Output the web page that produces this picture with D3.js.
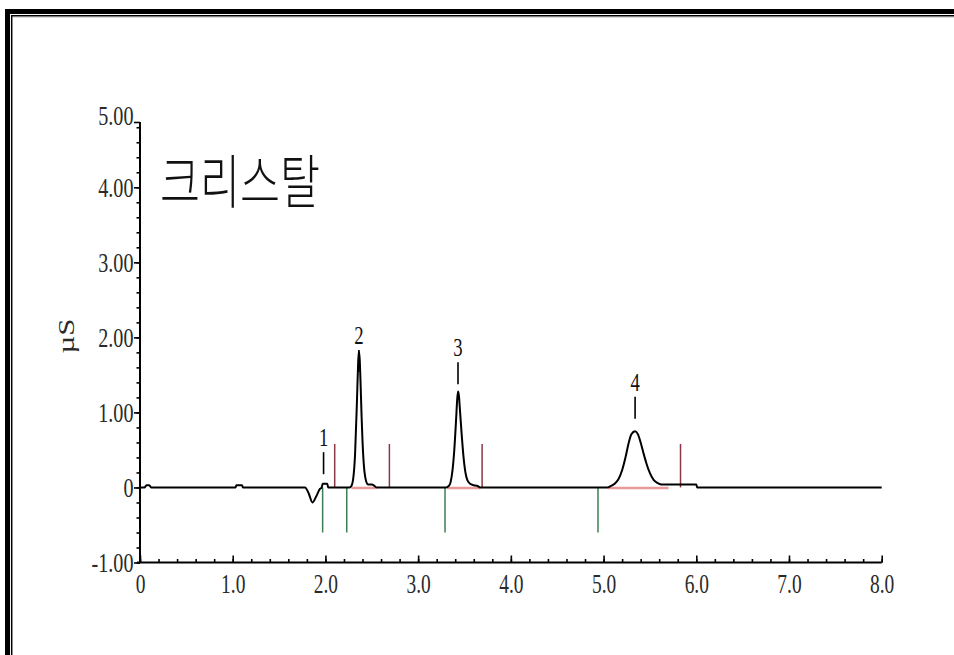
<!DOCTYPE html>
<html>
<head>
<meta charset="utf-8">
<script src="https://cdn.jsdelivr.net/npm/d3@7"></script>
<style>
  html, body { margin: 0; padding: 0; background: #fff; }
  svg { display: block; }
</style>
</head>
<body>
<svg id="chart" width="954" height="655"></svg>
<script>
// Conductivity trace: retention time (min) and signal (µS)
const traceTime = [
  0.00, 0.05, 0.07, 0.10, 0.12,
  1.03, 1.04, 1.10, 1.11,
  1.78, 1.82, 1.86, 1.90, 1.94, 1.96, 1.97, 2.02, 2.03,
  2.26, 2.28, 2.30, 2.32, 2.34, 2.35, 2.36, 2.37, 2.38, 2.39, 2.40, 2.41, 2.42, 2.44, 2.46, 2.50, 2.53, 2.55,
  3.30, 3.33, 3.35, 3.37, 3.39, 3.41, 3.42, 3.43, 3.44, 3.45, 3.47, 3.49, 3.51, 3.53, 3.56, 3.60, 3.64, 3.67,
  5.04, 5.08, 5.12, 5.16, 5.20, 5.24, 5.27, 5.30, 5.34, 5.37, 5.40, 5.43, 5.46, 5.50, 5.54, 5.58, 5.62, 5.66, 5.70,
  6.00, 6.01, 8.00
];
const traceSignal = [
  0.00, 0.00, 0.03, 0.03, 0.00,
  0.00, 0.03, 0.03, 0.00,
  0.00, -0.08, -0.20, -0.12, -0.02, 0.00, 0.05, 0.05, 0.00,
  0.00, 0.02, 0.12, 0.45, 1.15, 1.55, 1.82, 1.70, 1.35, 0.95, 0.62, 0.38, 0.22, 0.08, 0.04, 0.04, 0.02, 0.00,
  0.00, 0.02, 0.07, 0.22, 0.50, 0.92, 1.15, 1.28, 1.22, 1.05, 0.70, 0.40, 0.20, 0.10, 0.05, 0.03, 0.02, 0.00,
  0.00, 0.02, 0.05, 0.11, 0.23, 0.42, 0.59, 0.71, 0.75, 0.71, 0.60, 0.46, 0.33, 0.19, 0.10, 0.06, 0.04, 0.04, 0.04,
  0.04, 0.00, 0.00
];

// Peak annotations: number, apex time, level of the number label (µS)
const peakNumbers = ["1", "2", "3", "4"];
const peakTimes = [1.98, 2.36, 3.43, 5.34];
const peakLabelLevels = [0.67, 2.03, 1.87, 1.41];

// Integration window delimiters (start marks below, end marks above the baseline)
const windowStartTimes = [1.97, 2.23, 3.29, 4.94];
const windowEndTimes = [2.10, 2.69, 3.69, 5.83];

// Integration baselines drawn under the peaks
const baselineStarts = [2.28, 3.31, 5.05];
const baselineEnds = [2.55, 3.67, 5.70];

// Axes
const xTickValues = [0, 1, 2, 3, 4, 5, 6, 7, 8];
const xTickLabels = ["0", "1.0", "2.0", "3.0", "4.0", "5.0", "6.0", "7.0", "8.0"];
const yTickValues = [-1, 0, 1, 2, 3, 4, 4.87];
const yTickLabels = ["-1.00", "0", "1.00", "2.00", "3.00", "4.00", "5.00"];
const titleText = "크리스탈";
const yAxisTitle = "µS";

const svg = d3.select("#chart");
const SQ = 0.72; // horizontal squeeze applied to all lettering

const x = d3.scaleLinear().domain([0, 8]).range([140, 881.7]);
const y = d3.scaleLinear().domain([-1, 4.87]).range([562.5, 122]);

// Frame
svg.append("rect").attr("x", 5).attr("y", 9).attr("width", 949).attr("height", 5).attr("fill", "#000");
svg.append("rect").attr("x", 5).attr("y", 9).attr("width", 5).attr("height", 646).attr("fill", "#000");
svg.append("line").attr("x1", 11).attr("x2", 954).attr("y1", 15.7).attr("y2", 15.7)
  .attr("stroke", "#000").attr("stroke-width", 1.5);
svg.append("line").attr("x1", 11.7).attr("x2", 11.7).attr("y1", 15).attr("y2", 655)
  .attr("stroke", "#000").attr("stroke-width", 1.5);
svg.append("line").attr("x1", 13).attr("x2", 954).attr("y1", 17.5).attr("y2", 17.5)
  .attr("stroke", "#ddd").attr("stroke-width", 1);

// Minor ticks
const xMinor = d3.range(0, 8.001, 0.2);
const yMinor = d3.range(-1, 4.81, 0.2);

const xAxisMinor = d3.axisBottom(x).tickValues(xMinor).tickSizeInner(-3.5).tickSizeOuter(0).tickFormat("");
const xAxisMajor = d3.axisBottom(x).tickValues(xTickValues).tickSizeInner(-7).tickSizeOuter(0)
  .tickFormat((d, i) => xTickLabels[i]);
const yAxisMinor = d3.axisLeft(y).tickValues(yMinor).tickSizeInner(3.5).tickSizeOuter(0).tickFormat("");
const yAxisMajor = d3.axisLeft(y).tickValues(yTickValues).tickSizeInner(6).tickSizeOuter(0)
  .tickFormat((d, i) => yTickLabels[i]);

function styleAxis(g) {
  g.select(".domain").remove();
  g.selectAll(".tick line").attr("stroke", "#000").attr("stroke-width", 1.6);
}

svg.append("g").attr("transform", `translate(0,${y(-1)})`).call(xAxisMinor).call(styleAxis);
const gx = svg.append("g").attr("transform", `translate(0,${y(-1)})`).call(xAxisMajor).call(styleAxis);
gx.selectAll(".tick text")
  .attr("y", 31).attr("dy", 0).attr("x", 0)
  .attr("transform", `scale(${SQ},1)`)
  .attr("font-family", "'Liberation Serif', 'Times New Roman', serif")
  .attr("font-size", 27).attr("fill", "#2a2a2a");

svg.append("g").attr("transform", `translate(${x(0)},0)`).call(yAxisMinor).call(styleAxis);
const gy = svg.append("g").attr("transform", `translate(${x(0)},0)`).call(yAxisMajor).call(styleAxis);
gy.selectAll(".tick text")
  .attr("x", -6.5 / SQ).attr("dy", "0.33em")
  .attr("transform", `scale(${SQ},1)`)
  .attr("font-family", "'Liberation Serif', 'Times New Roman', serif")
  .attr("font-size", 28).attr("fill", "#2a2a2a");
// the top label sits just above its tick
gy.selectAll(".tick text").filter((d, i) => i === yTickValues.length - 1).attr("dy", "0.1em");

// Axis lines
svg.append("line").attr("x1", x(0) - 3).attr("x2", x(8)).attr("y1", y(-1)).attr("y2", y(-1))
  .attr("stroke", "#000").attr("stroke-width", 2);
svg.append("line").attr("x1", x(0)).attr("x2", x(0)).attr("y1", y(4.87)).attr("y2", y(-1))
  .attr("stroke", "#000").attr("stroke-width", 2);

// Y axis title
svg.append("text")
  .attr("transform", `translate(74,336) scale(${SQ},1) rotate(-90)`)
  .attr("text-anchor", "middle")
  .attr("font-family", "'Liberation Serif', 'Times New Roman', serif")
  .attr("font-size", 31).attr("fill", "#2a2a2a")
  .text(yAxisTitle);

// Sample name
svg.append("text")
  .attr("transform", `translate(160,203) scale(0.75,1)`)
  .attr("font-family", "'Noto Sans CJK KR', 'Noto Sans', sans-serif")
  .attr("font-weight", 300)
  .attr("font-size", 58).attr("fill", "#111")
  .text(titleText);

// Integration baselines
baselineStarts.forEach((s, i) => {
  svg.append("line")
    .attr("x1", x(s)).attr("x2", x(baselineEnds[i]))
    .attr("y1", y(0) + 0.5).attr("y2", y(0) + 0.5)
    .attr("stroke", "#e89a9a").attr("stroke-width", 2.5);
});

// Window delimiters
windowStartTimes.forEach(t => {
  svg.append("line")
    .attr("x1", x(t)).attr("x2", x(t))
    .attr("y1", y(0)).attr("y2", y(-0.6))
    .attr("stroke", "#3f7f55").attr("stroke-width", 1.5);
});
windowEndTimes.forEach(t => {
  svg.append("line")
    .attr("x1", x(t)).attr("x2", x(t))
    .attr("y1", y(0)).attr("y2", y(0.58))
    .attr("stroke", "#8a3848").attr("stroke-width", 1.5);
});

// Trace
const points = traceTime.map((t, i) => [t, traceSignal[i]]);
svg.append("path")
  .datum(points)
  .attr("fill", "none")
  .attr("stroke", "#000")
  .attr("stroke-width", 2)
  .attr("stroke-linejoin", "round")
  .attr("d", d3.line().x(d => x(d[0])).y(d => y(d[1])).curve(d3.curveMonotoneX));

// Peak numbers with their leader ticks
peakNumbers.forEach((n, i) => {
  const px = x(peakTimes[i]);
  const py = y(peakLabelLevels[i]);
  svg.append("line")
    .attr("x1", px).attr("x2", px)
    .attr("y1", py + 15).attr("y2", py + 37)
    .attr("stroke", "#000").attr("stroke-width", 1.6);
  svg.append("text")
    .attr("transform", `translate(${px},${py}) scale(${SQ},1)`)
    .attr("text-anchor", "middle").attr("dy", "0.35em")
    .attr("font-family", "'Liberation Serif', 'Times New Roman', serif")
    .attr("font-size", 26).attr("fill", "#111")
    .text(n);
});
</script>
</body>
</html>
